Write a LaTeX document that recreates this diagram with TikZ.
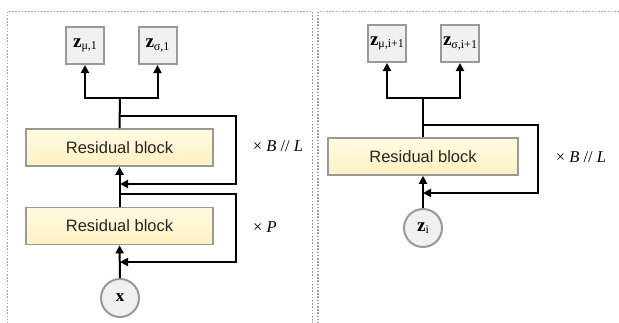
\documentclass[tikz,border=0pt]{standalone}
\usepackage{fontspec}
\setmainfont{Liberation Serif}
\newfontfamily\helv{Liberation Sans}
\usetikzlibrary{arrows.meta}
\definecolor{frameg}{HTML}{A0A0A0}
\definecolor{boxg}{HTML}{999999}
\definecolor{zfill}{HTML}{F0F0F2}
\definecolor{rbtop}{HTML}{FFFBE3}
\definecolor{rbbot}{HTML}{FFF0BF}
\newcommand{\zlab}[1]{{\fontsize{19}{19}\selectfont\textbf{z}}{\fontsize{12}{12}\selectfont\raisebox{-2.5pt}{#1}}}
\tikzset{
  frame/.style={draw=frameg, line width=1.6pt, dash pattern=on 1.6pt off 1.6pt},
  zbox/.style={draw=boxg, line width=2pt, fill=zfill, minimum width=38pt, minimum height=37pt, inner sep=0pt},
  rbox/.style={draw=boxg, line width=1.6pt, top color=rbtop, bottom color=rbbot, minimum width=187pt, minimum height=37pt, inner sep=0pt, font=\helv\fontsize{16.5}{16.5}\selectfont, text=black!85},
  inp/.style={circle, draw=boxg, line width=2pt, fill=zfill, minimum size=38pt, inner sep=0pt},
  conn/.style={line width=2pt, black},
  arr/.style={conn, -{Triangle[length=8pt,width=8pt]}},
  rep/.style={font=\fontsize{16.5}{16.5}\selectfont}
}
\begin{document}
\begin{tikzpicture}[x=1pt,y=-1pt]
\useasboundingbox (0,0) rectangle (619,322);
% frames
\draw[frame] (7.5,330) -- (7.5,11.5) -- (312.5,11.5) -- (312.5,330);
\draw[frame] (318,330) -- (318,11.5) -- (630,11.5);
% left panel
\node[zbox] (zm1) at (85,45.5) {\zlab{μ,1}};
\node[zbox] (zs1) at (157.5,45.5) {\zlab{σ,1}};
\node[rbox] (rb1) at (119.5,147.5) {Residual block};
\node[rbox] (rb2) at (119.5,226) {Residual block};
\node[inp] (x) at (120,298) {\fontsize{17}{17}\selectfont\textbf{x}};
\coordinate (b1) at (120,98);
\coordinate (j1) at (120,116);
\coordinate (m1) at (120,184);
\coordinate (j2) at (120,194);
\coordinate (m2) at (120,262);
\draw[conn] (rb1.north) -- (b1);
\draw[arr] (b1) -| (zm1.south);
\draw[arr] (b1) -| (zs1.south);
\draw[arr] (j1) -- (236,116) -- (236,184) -- (m1);
\draw[arr] (rb2.north) -- (rb1.south);
\draw[arr] (j2) -- (236,194) -- (236,262) -- (m2);
\draw[arr] (x.north) -- (rb2.south);
\node[rep] (l1) at (278,146) {× \textit{B} // \textit{L}};
\node[rep] (l2) at (265,227) {× \textit{P}};
% right panel
\node[zbox] (zm2) at (387,43.5) {\zlab{μ,i+1}};
\node[zbox] (zs2) at (460,43.5) {\zlab{σ,i+1}};
\node[rbox, minimum width=190pt] (rb3) at (423,156.5) {Residual block};
\node[inp] (zi) at (423,228) {\zlab{i}};
\coordinate (b2) at (423,98);
\coordinate (j3) at (423,125);
\coordinate (m3) at (423,193);
\draw[conn] (rb3.north) -- (b2);
\draw[arr] (b2) -| (zm2.south);
\draw[arr] (b2) -| (zs2.south);
\draw[arr] (j3) -- (538,125) -- (538,193) -- (m3);
\draw[arr] (zi.north) -- (rb3.south);
\node[rep] (l3) at (581,157) {× \textit{B} // \textit{L}};
\end{tikzpicture}
\end{document}
